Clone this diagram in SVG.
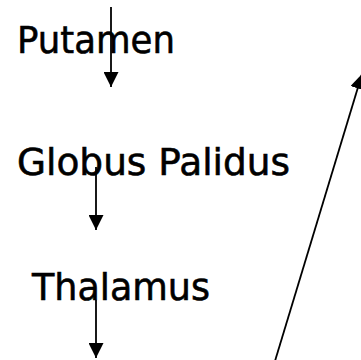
<svg xmlns="http://www.w3.org/2000/svg" width="361" height="360" viewBox="0 0 361 360">
  <style>
    .label { font-family: "DejaVu Sans", "Liberation Sans", sans-serif; font-size: 38px; fill: #000; stroke: #000; stroke-width: 0.6; }
    .conn { stroke: #000; stroke-width: 1.8; fill: none; }
  </style>
  <defs>
    <marker id="head" viewBox="0 0 10 10" refX="10" refY="5" markerWidth="15" markerHeight="15" markerUnits="userSpaceOnUse" orient="auto">
      <path d="M0,0 L10,5 L0,10 Z" fill="#000"/>
    </marker>
  </defs>
  <rect width="361" height="360" fill="#fff"/>
  <g id="putamen">
    <text class="label" x="17" y="53" textLength="158" lengthAdjust="spacingAndGlyphs">Putamen</text>
  </g>
  <g id="globus-palidus">
    <text class="label" x="17" y="175" textLength="273" lengthAdjust="spacingAndGlyphs">Globus Palidus</text>
  </g>
  <g id="thalamus">
    <text class="label" x="32" y="300" textLength="178" lengthAdjust="spacingAndGlyphs">Thalamus</text>
  </g>
  <g id="connectors">
    <line class="conn" x1="111" y1="7" x2="111" y2="87" marker-end="url(#head)"/>
    <line class="conn" x1="96" y1="167" x2="96" y2="230" marker-end="url(#head)"/>
    <line class="conn" x1="96" y1="300" x2="96" y2="358" marker-end="url(#head)"/>
    <line class="conn" x1="275" y1="361" x2="362" y2="74" marker-end="url(#head)"/>
  </g>
</svg>
